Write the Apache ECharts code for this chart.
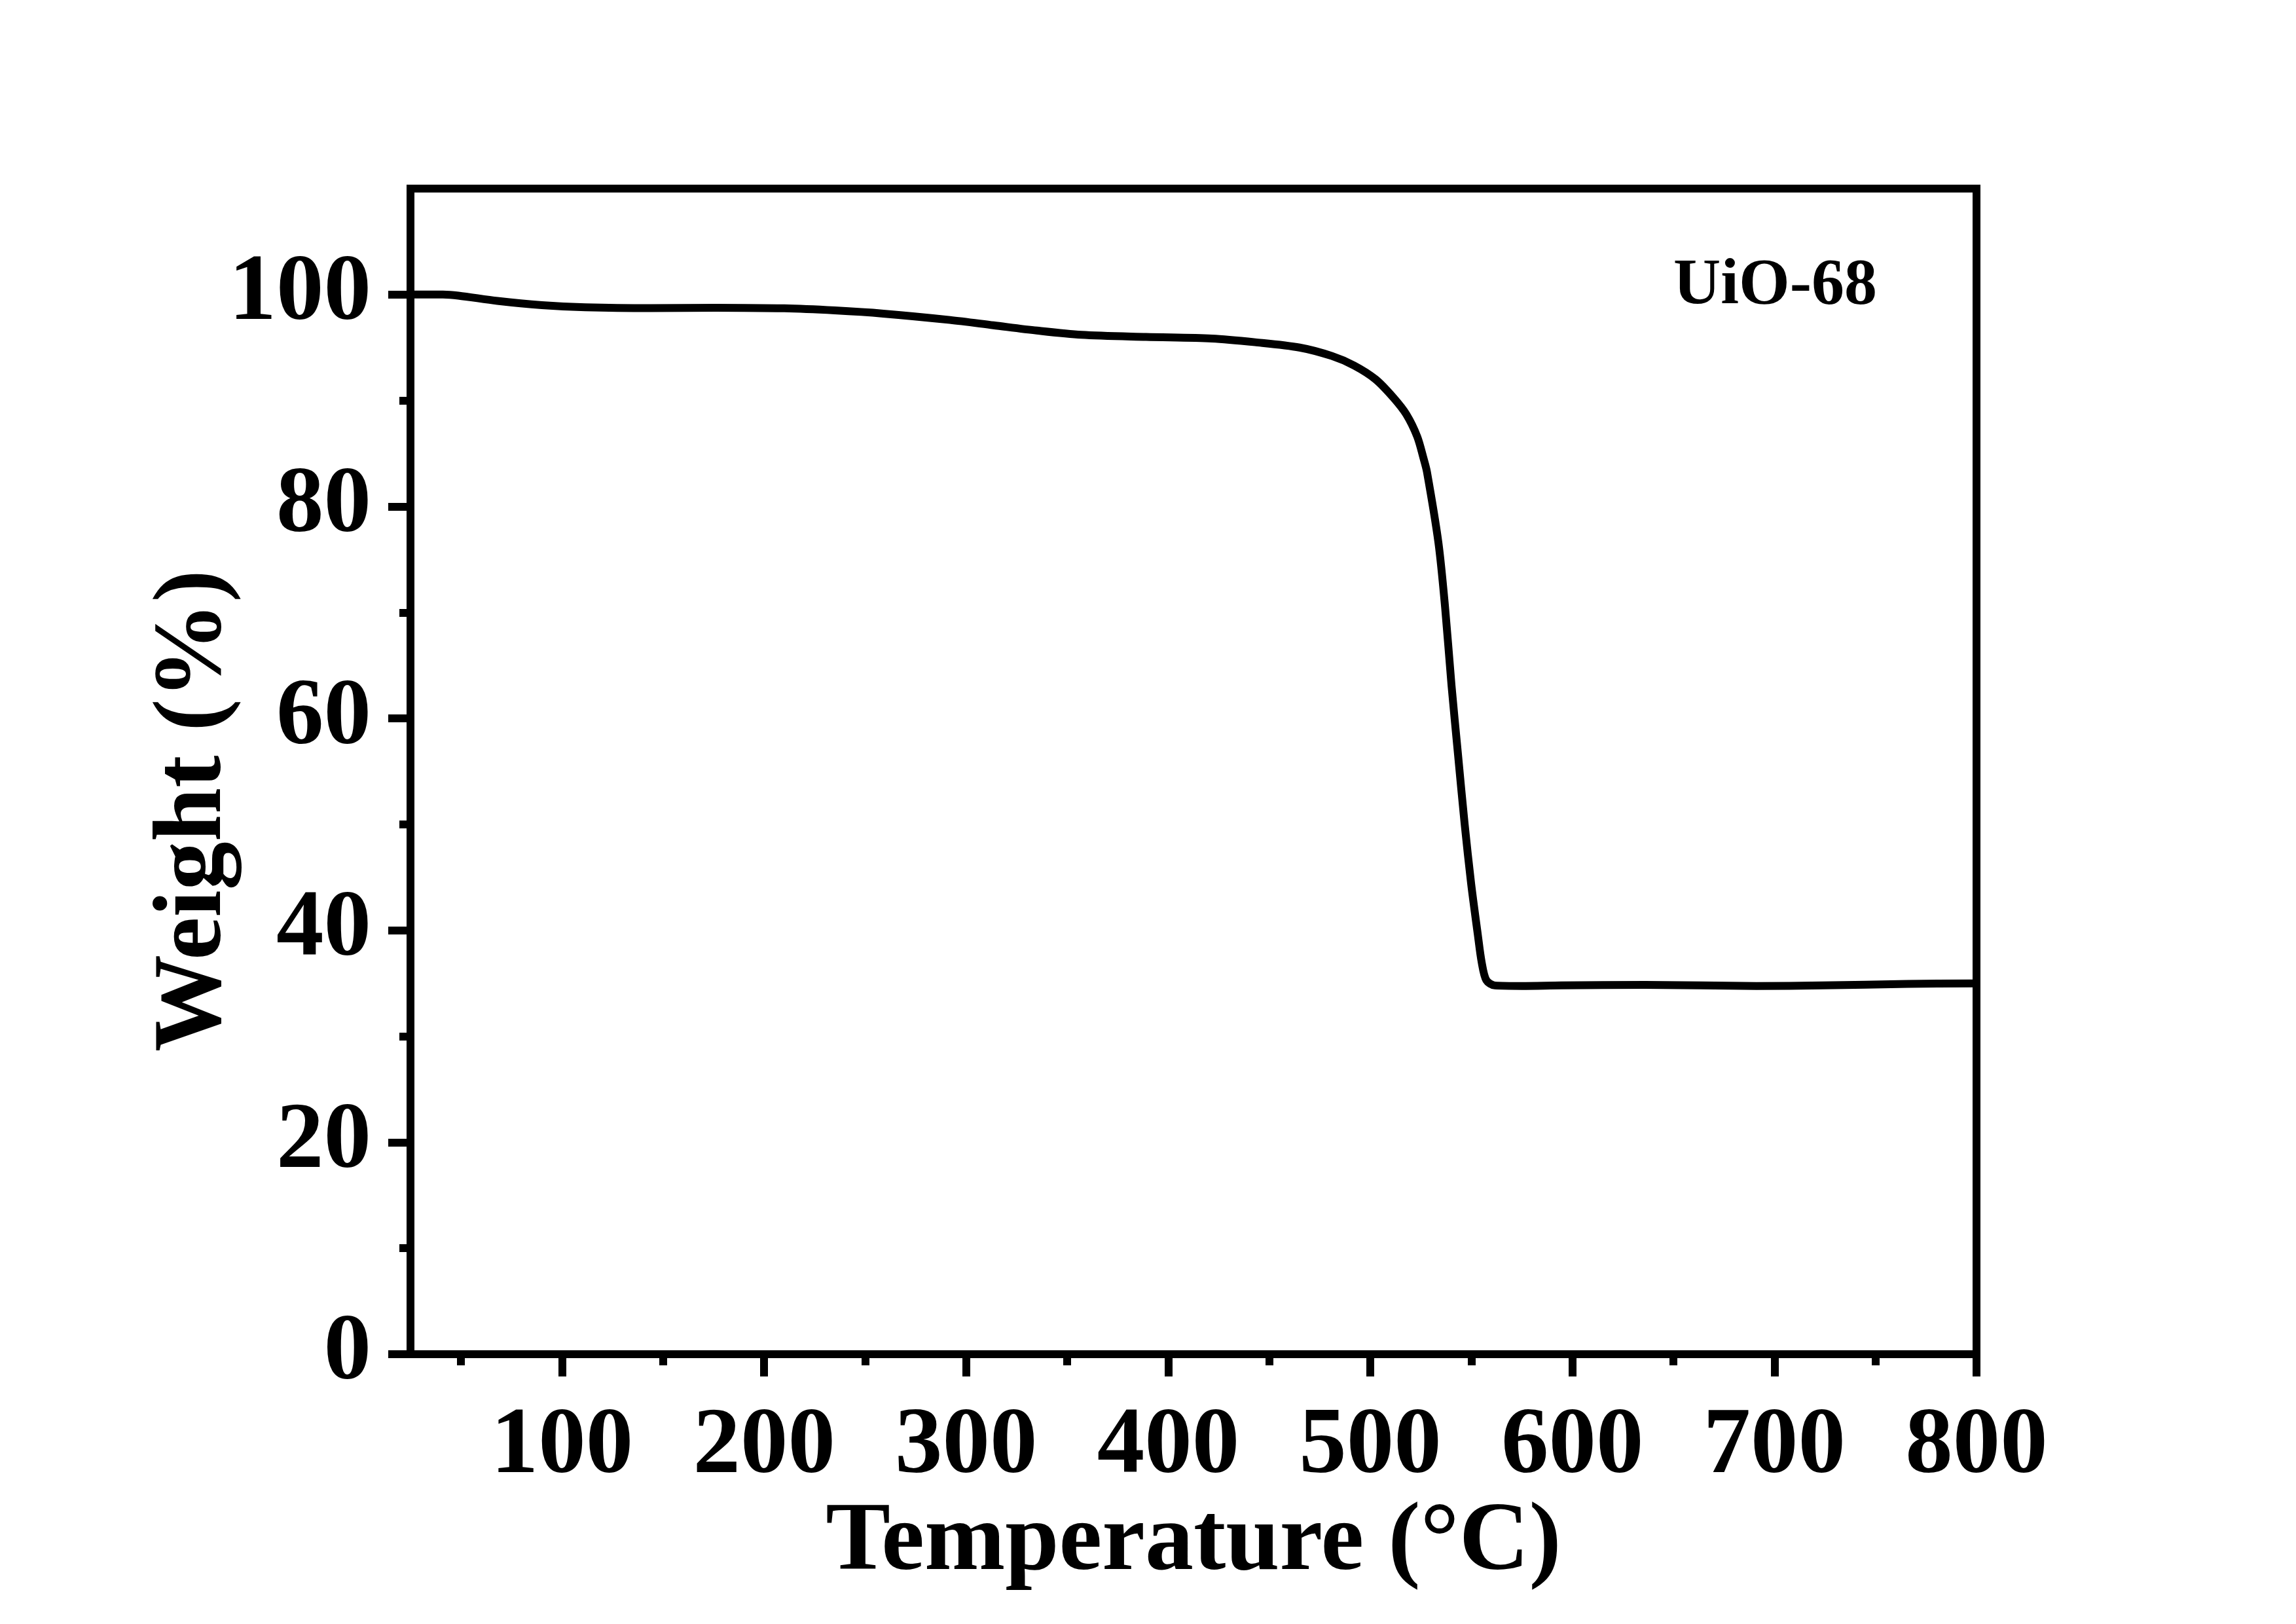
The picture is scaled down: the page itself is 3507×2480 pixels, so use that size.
<!DOCTYPE html>
<html>
<head>
<meta charset="utf-8">
<script src="https://cdn.jsdelivr.net/npm/echarts@6/dist/echarts.min.js"></script>
<style>
html,body{margin:0;padding:0;background:#fff;}
#chart{width:3507px;height:2480px;}
</style>
</head>
<body>
<div id="chart"></div>
<script>
// Temperature (°C)
var temperature = [25, 41, 48.7, 68, 90, 111.5, 144, 176, 210, 235, 259, 292, 313.5, 335, 357, 389, 421.6, 443, 465, 481, 492, 502.6, 511.3, 517.8, 523.2, 526.4, 528, 533.7, 537, 540.2, 543.4, 546.7, 549.9, 553.2, 555.1, 557.4, 561.6, 575, 594.5, 636, 691, 724, 766, 800];
// Weight (%)
var weight = [100.0, 100.0, 99.9, 99.4, 99.0, 98.8, 98.72, 98.76, 98.7, 98.5, 98.2, 97.6, 97.1, 96.6, 96.2, 96.0, 95.85, 95.5, 95.0, 94.2, 93.3, 92.0, 90.3, 88.7, 86.6, 84.5, 83.3, 76.6, 70.5, 63.1, 56.6, 50.0, 44.4, 39.6, 37.0, 35.3, 34.8, 34.75, 34.8, 34.85, 34.75, 34.8, 34.95, 35.0];
var xMajorTicks = [100, 200, 300, 400, 500, 600, 700, 800];
var xMinorTicks = [50, 150, 250, 350, 450, 550, 650, 750];
var yMajorTicks = [0, 20, 40, 60, 80, 100];
var yMinorTicks = [10, 30, 50, 70, 90];
var sampleName = 'UiO-68';

var FONT = 'Liberation Serif';
var chart = echarts.init(document.getElementById('chart'));
var data = temperature.map(function (t, i) { return [t, weight[i]]; });

var lineW = 12;
chart.setOption({
  animation: false,
  backgroundColor: '#fff',
  title: {
    text: sampleName,
    left: 2551,
    top: 382,
    textStyle: { fontFamily: FONT, fontWeight: 'bold', fontSize: 100, color: '#000' }
  },
  grid: {
    left: 627, right: 488, top: 288, bottom: 412,
    show: true, borderColor: '#000', borderWidth: 12, backgroundColor: 'transparent'
  },
  xAxis: [{
    type: 'value', min: 25, max: 800, position: 'bottom',
    name: 'Temperature (°C)', nameLocation: 'middle', nameGap: 216, nameMoveOverlap: false,
    nameTextStyle: { fontFamily: FONT, fontWeight: 'bold', fontSize: 148, color: '#000' },
    axisLine: { show: true, onZero: false, lineStyle: { color: '#000', width: 12 } },
    axisTick: { show: true, inside: false, length: 34, customValues: xMajorTicks, lineStyle: { color: '#000', width: lineW } },
    axisLabel: { show: true, margin: 70, customValues: xMajorTicks, fontFamily: FONT, fontWeight: 'bold', fontSize: 145, color: '#000' },
    splitLine: { show: false }
  }, {
    type: 'value', min: 25, max: 800, position: 'bottom',
    axisLine: { show: false },
    axisTick: { show: true, inside: false, length: 17, customValues: xMinorTicks, lineStyle: { color: '#000', width: lineW } },
    axisLabel: { show: false },
    splitLine: { show: false }
  }],
  yAxis: [{
    type: 'value', min: 0, max: 110, position: 'left',
    name: 'Weight (%)', nameLocation: 'middle', nameGap: 255, nameRotate: 90, nameMoveOverlap: false,
    nameTextStyle: { fontFamily: FONT, fontWeight: 'bold', fontSize: 148, color: '#000', padding: [0, 120, 0, 0] },
    axisLine: { show: true, onZero: false, lineStyle: { color: '#000', width: 12 } },
    axisTick: { show: true, inside: false, length: 34, customValues: yMajorTicks, lineStyle: { color: '#000', width: lineW } },
    axisLabel: { show: true, margin: 60, customValues: yMajorTicks, fontFamily: FONT, fontWeight: 'bold', fontSize: 145, color: '#000' },
    splitLine: { show: false }
  }, {
    type: 'value', min: 0, max: 110, position: 'left',
    axisLine: { show: false },
    axisTick: { show: true, inside: false, length: 17, customValues: yMinorTicks, lineStyle: { color: '#000', width: lineW } },
    axisLabel: { show: false },
    splitLine: { show: false }
  }],
  series: [{
    type: 'line',
    xAxisIndex: 0, yAxisIndex: 0,
    data: data,
    showSymbol: false,
    smooth: 0.3,
    lineStyle: { color: '#000', width: 12, cap: 'round', join: 'round' }
  }]
});
</script>
</body>
</html>
